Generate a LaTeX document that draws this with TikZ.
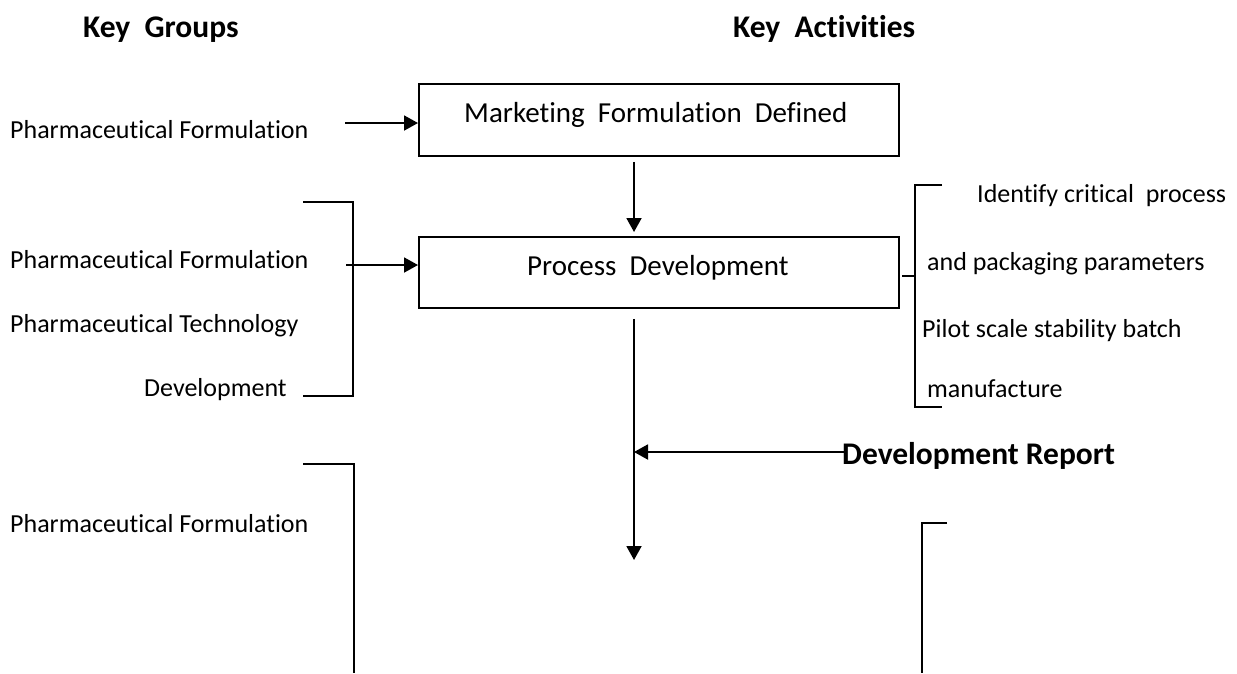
\documentclass[tikz,border=0pt]{standalone}
\usepackage{fontspec}
\setmainfont{Carlito}[Ligatures=NoCommon]
\usetikzlibrary{arrows.meta}
\begin{document}
\begin{tikzpicture}[x=1pt,y=-1pt,
  lbl/.style={inner sep=0pt,anchor=base west,font=\fontsize{26}{30}\selectfont},
  head/.style={inner sep=0pt,anchor=base west,font=\fontsize{31.5}{36}\selectfont\bfseries},
  boxtxt/.style={inner sep=0pt,anchor=base west,font=\fontsize{29}{34}\selectfont},
  stepbox/.style={draw,line width=1.9pt,minimum width=480pt,inner sep=0pt,anchor=north west},
  arr/.style={line width=1.9pt,-{Triangle[length=14pt,width=15pt]}},
  brk/.style={line width=1.8pt}]
\useasboundingbox (0,0) rectangle (1237,673);
% headings
\node[head] (kg) at (83,37) {Key\ \ Groups};
\node[head] (ka) at (733,37) {Key\ \ Activities};
% boxes
\node[stepbox,minimum height=72pt] (box1) at (418,83) {};
\node[stepbox,minimum height=71pt] (box2) at (418,236) {};
\node[boxtxt] (t1) at (464,122) {Marketing\ \ Formulation\ \ Defined};
\node[boxtxt] (t2) at (527,275) {Process\ \ Development};
% left labels
\node[lbl] (pf1) at (10,138) {Pharmaceutical Formulation};
\node[lbl] (pf2) at (10,268) {Pharmaceutical Formulation};
\node[lbl] (pt) at (10,332) {Pharmaceutical Technology};
\node[lbl] (dev) at (144,396) {Development};
\node[lbl] (pf3) at (10,532) {Pharmaceutical Formulation};
% right labels
\node[lbl] (r1) at (977,202) {Identify critical\ \ process};
\node[lbl] (r2) at (927,270) {and packaging parameters};
\node[lbl] (r3) at (922,337) {Pilot scale stability batch};
\node[lbl] (r4) at (927,397) {manufacture};
\node[head] (dr) at (842,464) {Development Report};
% coordinates
\coordinate (spine) at (634,0);
\coordinate (a1) at (345,123);
\coordinate (a2) at (346,265);
\coordinate (drl) at (846,452);
\coordinate (low) at (634,560);
% arrows
\draw[arr] (a1) -- (box1.west |- a1);
\draw[arr,shorten <=5pt,shorten >=4pt] (box1.south -| spine) -- (box2.north -| spine);
\draw[arr] (a2) -- (box2.west |- a2);
\draw[arr,shorten <=10pt] (box2.south -| spine) -- (low);
\draw[arr] (drl) -- (spine |- drl);
% brackets
\draw[brk] (303,202) -- (353,202) -- (353,396) -- (303,396);
\draw[brk] (303,464) -- (354,464) -- (354,673);
\draw[brk] (942,185) -- (915,185) -- (915,407) -- (942,407);
\draw[brk] (902,276) -- (915,276);
\draw[brk] (947,523) -- (922,523) -- (922,673);
\end{tikzpicture}
\end{document}
